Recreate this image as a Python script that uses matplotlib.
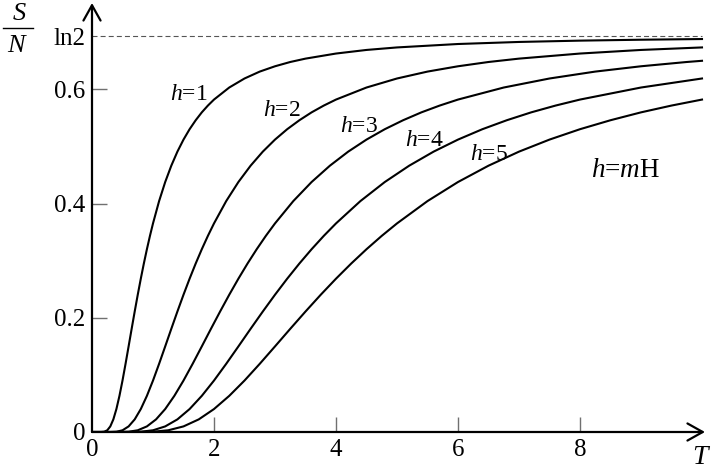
import matplotlib
matplotlib.use("Agg")
import matplotlib.pyplot as plt
import numpy as np

# entropy per spin S/N vs temperature T
T_h1 = [0, 0.1, 0.15, 0.2, 0.25, 0.3, 0.35, 0.4, 0.45, 0.5,
        0.55, 0.6, 0.65, 0.7, 0.75, 0.8, 0.85, 0.9, 0.95, 1.0,
        1.1, 1.2, 1.3, 1.4, 1.5, 1.6, 1.7, 1.8, 1.9, 2.0,
        2.25, 2.5, 2.75, 3.0, 3.25, 3.5, 4.0, 4.5, 5.0,
        6.0, 7.0, 8.0, 9.0, 10.0]
S_h1 = [0, 0, 0, 0.0005, 0.0030, 0.0098, 0.0221, 0.0402, 0.0633, 0.0901,
        0.1194, 0.1499, 0.1807, 0.2110, 0.2404, 0.2685, 0.2951, 0.3201, 0.3435, 0.3653,
        0.4044, 0.4378, 0.4664, 0.4910, 0.5121, 0.5303, 0.5460, 0.5598, 0.5717, 0.5822,
        0.6033, 0.6191, 0.6312, 0.6405, 0.6480, 0.6539, 0.6628, 0.6691, 0.6735,
        0.6795, 0.6831, 0.6854, 0.6870, 0.6882]

T_h2 = [0, 0.2, 0.3, 0.4, 0.5, 0.6, 0.7, 0.8, 0.9, 1.0,
        1.1, 1.2, 1.3, 1.4, 1.5, 1.6, 1.7, 1.8, 1.9, 2.0,
        2.2, 2.4, 2.6, 2.8, 3.0, 3.2, 3.4, 3.6, 3.8, 4.0,
        4.5, 5.0, 5.5, 6.0, 6.5, 7.0, 8.0, 9.0, 10.0]
S_h2 = [0, 0, 0, 0.0005, 0.0030, 0.0098, 0.0221, 0.0402, 0.0633, 0.0901,
        0.1194, 0.1499, 0.1807, 0.2110, 0.2404, 0.2685, 0.2951, 0.3201, 0.3435, 0.3653,
        0.4044, 0.4378, 0.4664, 0.4910, 0.5121, 0.5303, 0.5460, 0.5598, 0.5717, 0.5822,
        0.6033, 0.6191, 0.6312, 0.6405, 0.6480, 0.6539, 0.6628, 0.6691, 0.6735]

T_h3 = [0, 0.3, 0.45, 0.6, 0.75, 0.9, 1.05, 1.2, 1.35, 1.5,
        1.65, 1.8, 1.95, 2.1, 2.25, 2.4, 2.55, 2.7, 2.85, 3.0,
        3.3, 3.6, 3.9, 4.2, 4.5, 4.8, 5.1, 5.4, 5.7, 6.0,
        6.75, 7.5, 8.25, 9.0, 9.75, 10.0]
S_h3 = [0, 0, 0, 0.0005, 0.0030, 0.0098, 0.0221, 0.0402, 0.0633, 0.0901,
        0.1194, 0.1499, 0.1807, 0.2110, 0.2404, 0.2685, 0.2951, 0.3201, 0.3435, 0.3653,
        0.4044, 0.4378, 0.4664, 0.4910, 0.5121, 0.5303, 0.5460, 0.5598, 0.5717, 0.5822,
        0.6033, 0.6191, 0.6312, 0.6405, 0.6480, 0.6501]

T_h4 = [0, 0.4, 0.6, 0.8, 1.0, 1.2, 1.4, 1.6, 1.8, 2.0,
        2.2, 2.4, 2.6, 2.8, 3.0, 3.2, 3.4, 3.6, 3.8, 4.0,
        4.4, 4.8, 5.2, 5.6, 6.0, 6.4, 6.8, 7.2, 7.6, 8.0,
        9.0, 10.0]
S_h4 = [0, 0, 0, 0.0005, 0.0030, 0.0098, 0.0221, 0.0402, 0.0633, 0.0901,
        0.1194, 0.1499, 0.1807, 0.2110, 0.2404, 0.2685, 0.2951, 0.3201, 0.3435, 0.3653,
        0.4044, 0.4378, 0.4664, 0.4910, 0.5121, 0.5303, 0.5460, 0.5598, 0.5717, 0.5822,
        0.6033, 0.6191]

T_h5 = [0, 0.5, 0.75, 1.0, 1.25, 1.5, 1.75, 2.0, 2.25, 2.5,
        2.75, 3.0, 3.25, 3.5, 3.75, 4.0, 4.25, 4.5, 4.75, 5.0,
        5.5, 6.0, 6.5, 7.0, 7.5, 8.0, 8.5, 9.0, 9.5, 10.0]
S_h5 = [0, 0, 0, 0.0005, 0.0030, 0.0098, 0.0221, 0.0402, 0.0633, 0.0901,
        0.1194, 0.1499, 0.1807, 0.2110, 0.2404, 0.2685, 0.2951, 0.3201, 0.3435, 0.3653,
        0.4044, 0.4378, 0.4664, 0.4910, 0.5121, 0.5303, 0.5460, 0.5598, 0.5717, 0.5822]

curve_labels = ["1", "2", "3", "4", "5"]
label_T = [1.58, 3.11, 4.37, 5.45, 6.51]      # label centres
label_S = [0.581, 0.553, 0.526, 0.500, 0.476]  # label baselines

LN2 = np.log(2)
x_ticks = [0, 2, 4, 6, 8]
y_ticks = [0, 0.2, 0.4, 0.6, LN2]
y_ticklabels = ["0", "0.2", "0.4", "0.6", "ln2"]

plt.rcParams["font.family"] = ["Liberation Serif", "DejaVu Serif"]
plt.rcParams["mathtext.fontset"] = "custom"
plt.rcParams["mathtext.rm"] = "Liberation Serif"
plt.rcParams["mathtext.it"] = "Liberation Serif:italic"

W, H = 714, 468
fig = plt.figure(figsize=(W / 100, H / 100), dpi=100)
x0, x1, y0, y1 = 92, 705, 432, 3
ax = fig.add_axes([x0 / W, (H - y0) / H, (x1 - x0) / W, (y0 - y1) / H])
ax.set_xlim(0, (x1 - x0) / 61.0)
ax.set_ylim(0, (y0 - y1) / 571.0)

for s in ax.spines.values():
    s.set_visible(False)

for T, S in [(T_h1, S_h1), (T_h2, S_h2), (T_h3, S_h3), (T_h4, S_h4), (T_h5, S_h5)]:
    ax.plot(T, S, color="black", lw=1.5, solid_joinstyle="round")

ax.plot([0, 10.0], [LN2, LN2], color="#555555", lw=0.8, linestyle=(0, (4.5, 2.8)))

for lab, tx, sy in zip(curve_labels, label_T, label_S):
    ax.text(tx, sy, r"$h$=" + lab, fontsize=17, ha="center", va="baseline")
ax.text(8.75, 0.447, r"$h$=$m$H", fontsize=19.5, ha="center", va="baseline")

# axes drawn as arrows
arrow = dict(arrowstyle="->,head_length=0.5,head_width=0.28", lw=1.6, color="black",
             mutation_scale=22, shrinkA=0, shrinkB=0)
ax.annotate("", xy=(1, 0), xytext=(0, 0), xycoords="axes fraction", arrowprops=arrow)
ax.annotate("", xy=(0, 1), xytext=(0, 0), xycoords="axes fraction", arrowprops=arrow)

ax.set_xticks(x_ticks)
ax.set_xticklabels([str(v) for v in x_ticks])
ax.set_yticks(y_ticks)
ax.set_yticklabels(y_ticklabels)
ax.tick_params(direction="in", length=11, width=1.0, color="#707070", labelsize=18, pad=5)
ax.xaxis.get_major_ticks()[0].tick1line.set_visible(False)
ax.yaxis.get_major_ticks()[0].tick1line.set_visible(False)
ax.yaxis.get_major_ticks()[4].tick1line.set_visible(False)

# axis titles
fig.text(700 / W, 1 - 457 / H, "T", fontsize=20, style="italic", ha="center", va="center")
fig.text(19 / W, 1 - 14 / H, "S", fontsize=19, style="italic", ha="center", va="center")
fig.text(16 / W, 1 - 46 / H, "N", fontsize=19, style="italic", ha="center", va="center")
fig.add_artist(plt.Line2D([3 / W, 33 / W], [1 - 28 / H, 1 - 28 / H], color="black", lw=1.0))

fig.savefig("out.png", dpi=100)
